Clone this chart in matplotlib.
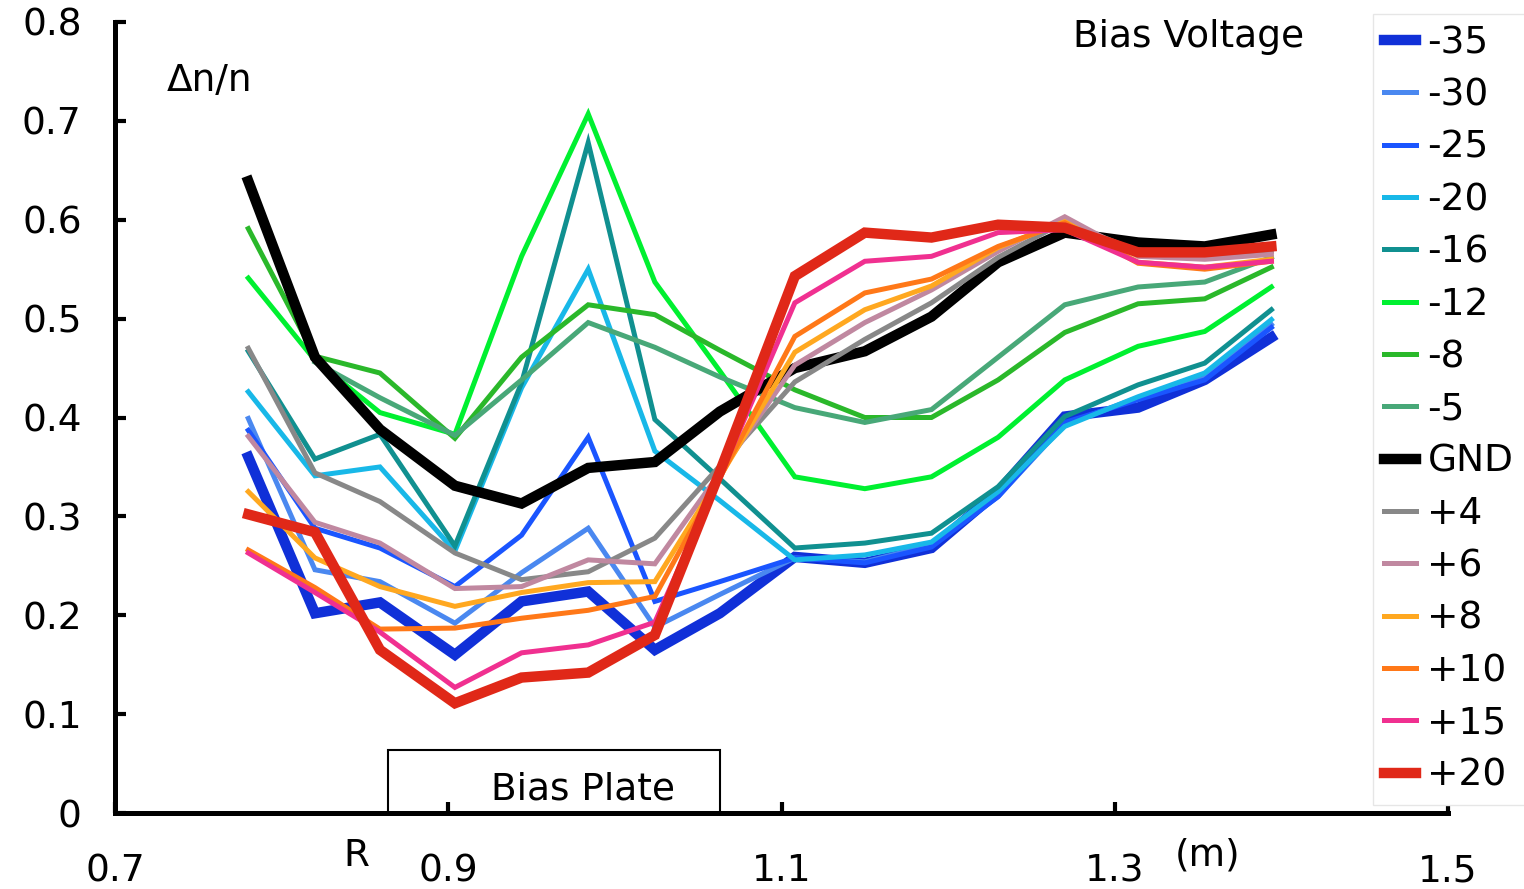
import numpy as np
import matplotlib
matplotlib.use("Agg")
import matplotlib.pyplot as plt
from matplotlib.patches import Rectangle

nan = np.nan

# radial positions (m)
r_pos = [0.780, 0.820, 0.859, 0.904, 0.944, 0.984, 1.024, 1.063,
         1.108, 1.150, 1.190, 1.230, 1.270, 1.314, 1.354, 1.394]

labels = ["-35", "-30", "-25", "-20", "-16", "-12", "-8", "-5",
          "GND", "+4", "+6", "+8", "+10", "+15", "+20"]

v_m35 = [0.360, 0.202, 0.213, 0.160, 0.214, 0.224, 0.165, 0.202, 0.259, 0.253, 0.268, 0.325, 0.401, 0.410, 0.438, 0.481]
v_m30 = [0.399, 0.246, 0.234, 0.192, 0.243, 0.288, 0.188, 0.221, 0.258, 0.254, 0.271, 0.320, 0.393, 0.420, 0.440, 0.494]
v_m25 = [0.387, 0.288, 0.268, 0.229, 0.281, 0.380, 0.214, 0.234, 0.258, 0.253, 0.269, 0.320, 0.395, 0.418, 0.438, 0.491]
v_m20 = [0.426, 0.341, 0.350, 0.265, 0.430, 0.550, 0.366, 0.316, 0.256, 0.261, 0.274, 0.325, 0.391, 0.421, 0.445, 0.499]
v_m16 = [0.467, 0.358, 0.383, 0.270, 0.435, 0.678, 0.398, 0.338, 0.268, 0.273, 0.283, 0.330, 0.401, 0.433, 0.455, 0.509]
v_m12 = [0.541, 0.458, 0.405, 0.383, 0.563, 0.707, 0.537, 0.447, 0.340, 0.328, 0.340, 0.380, 0.438, 0.472, 0.487, 0.532]
v_m8 = [0.591, 0.462, 0.445, 0.379, 0.461, 0.514, 0.504, 0.468, 0.428, 0.400, 0.400, 0.438, 0.486, 0.515, 0.520, 0.552]
v_m5 = [nan, 0.456, 0.420, 0.382, 0.438, 0.496, 0.471, 0.441, 0.410, 0.395, 0.408, 0.461, 0.514, 0.532, 0.537, 0.562]
v_gnd = [0.639, 0.461, 0.388, 0.331, 0.313, 0.349, 0.355, 0.406, 0.450, 0.467, 0.502, 0.557, 0.587, 0.577, 0.573, 0.585]
v_p4 = [0.470, 0.344, 0.315, 0.263, 0.236, 0.244, 0.278, 0.351, 0.436, 0.479, 0.516, 0.562, 0.598, 0.568, 0.563, 0.568]
v_p6 = [0.381, 0.294, 0.273, 0.227, 0.229, 0.256, 0.252, 0.344, 0.453, 0.496, 0.529, 0.568, 0.603, 0.563, 0.560, 0.565]
v_p8 = [0.325, 0.258, 0.229, 0.209, 0.223, 0.233, 0.234, 0.340, 0.466, 0.509, 0.533, 0.572, 0.598, 0.557, 0.552, 0.560]
v_p10 = [0.266, 0.228, 0.186, 0.187, 0.197, 0.205, 0.219, 0.339, 0.482, 0.526, 0.540, 0.573, 0.597, 0.556, 0.550, 0.558]
v_p15 = [0.263, 0.223, 0.183, 0.127, 0.162, 0.170, 0.193, 0.341, 0.516, 0.558, 0.563, 0.587, 0.590, 0.557, 0.552, 0.558]
v_p20 = [0.302, 0.284, 0.165, 0.111, 0.137, 0.142, 0.180, 0.345, 0.543, 0.587, 0.582, 0.595, 0.592, 0.567, 0.567, 0.573]

series = [v_m35, v_m30, v_m25, v_m20, v_m16, v_m12, v_m8, v_m5,
          v_gnd, v_p4, v_p6, v_p8, v_p10, v_p15, v_p20]

colors = ["#1030d8", "#4a88f0", "#1a55ff", "#18b8e8", "#109090", "#00f030",
          "#2ab82a", "#48a878", "#000000", "#888888", "#c088a0", "#ffa820",
          "#ff7818", "#f03090", "#e02818"]
thick = {"-35", "GND", "+20"}

FS = 27
plt.rcParams["font.family"] = ["DejaVu Sans"]

fig = plt.figure(figsize=(15.24, 8.89), dpi=100)
ax = fig.add_axes([115 / 1524, 76 / 889, 1333 / 1524, 791 / 889])

for lab, vals, col in zip(labels, series, colors):
    lw = 7.5 if lab in thick else 3.6
    ax.plot(r_pos, vals, color=col, lw=lw, label=lab,
            solid_joinstyle="miter", clip_on=False)

ax.set_xlim(0.7, 1.5)
ax.set_ylim(0, 0.8)
ax.set_xticks([0.7, 0.9, 1.1, 1.3, 1.5])
ax.set_xticklabels(["0.7", "0.9", "1.1", "1.3", "1.5"])
ax.set_yticks([0, 0.1, 0.2, 0.3, 0.4, 0.5, 0.6, 0.7, 0.8])
ax.set_yticklabels(["0", "0.1", "0.2", "0.3", "0.4", "0.5", "0.6", "0.7", "0.8"])
for s in ("top", "right"):
    ax.spines[s].set_visible(False)
for s in ("left", "bottom"):
    ax.spines[s].set_linewidth(3.6)
ax.tick_params(axis="both", direction="in", length=8, width=3, labelsize=FS)
ax.tick_params(axis="y", pad=24)
ax.tick_params(axis="x", pad=29)

# bias plate box
ax.add_patch(Rectangle((0.864, 0.0), 0.199, 0.064, fill=False,
                       edgecolor="black", lw=1.5, clip_on=False, zorder=1))
ax.text(0.981, 0.024, "Bias Plate", fontsize=FS, ha="center", va="center")

ax.text(0.731, 0.740, "Δn/n", fontsize=FS, ha="left", va="center")
ax.text(1.275, 0.785, "Bias Voltage", fontsize=FS, ha="left", va="center")
ax.text(0.845, -0.043, "R", fontsize=FS, ha="center", va="center", clip_on=False)
ax.text(1.356, -0.043, "(m)", fontsize=FS, ha="center", va="center", clip_on=False)

leg = fig.legend(loc="upper left", bbox_to_anchor=(1373 / 1524, 1 - 14 / 889),
                 borderaxespad=0, fontsize=FS, handlelength=0.85,
                 handletextpad=0.3, labelspacing=0.435, borderpad=0.3,
                 fancybox=False, framealpha=1, edgecolor="#e6e6e6")
leg.get_frame().set_linewidth(1.0)

fig.savefig("out.png", dpi=100)
